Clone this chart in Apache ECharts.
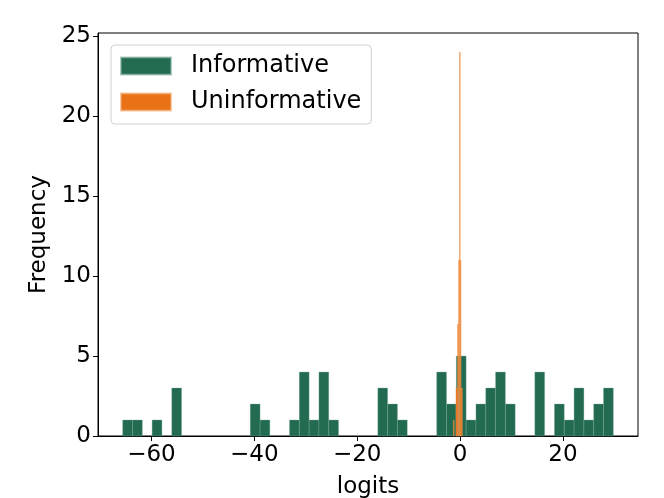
<!DOCTYPE html>
<html>
<head>
<meta charset="utf-8">
<script src="https://cdn.jsdelivr.net/npm/echarts@6/dist/echarts.min.js"></script>
<style>
  html, body { margin: 0; padding: 0; background: #fff; }
  #box { width: 664px; height: 498px; }
</style>
</head>
<body>
<div id="box"></div>
<script>
// Informative: 50 equal bins, first edge and width
let infStart = -65.6;
let infWidth = 1.908;
let infCounts = [1, 1, 0, 1, 0, 3, 0, 0, 0, 0,
                 0, 0, 0, 2, 1, 0, 0, 1, 4, 1,
                 4, 1, 0, 0, 0, 0, 3, 2, 1, 0,
                 0, 0, 4, 2, 5, 1, 2, 3, 4, 2,
                 0, 0, 4, 0, 2, 1, 3, 1, 2, 3];

// Uninformative: very narrow bins packed around 0
let uninfLeft  = [-1.30, -0.80, -0.50, -0.30, -0.12, 0.04, 0.20];
let uninfRight = [-1.14, -0.50, -0.30, -0.12, 0.04, 0.20, 0.45];
let uninfCount = [1, 3, 7, 11, 24, 11, 3];

let xTicks = [-60, -40, -20, 0, 20];
let yTicks = [0, 5, 10, 15, 20, 25];

let infData = infCounts.map(function (c, i) {
    return [infStart + i * infWidth, infStart + (i + 1) * infWidth, c];
}).filter(function (d) { return d[2] > 0; });

let uninfData = uninfCount.map(function (c, i) {
    return [uninfLeft[i], uninfRight[i], c];
});

function histRect(params, api) {
    let p0 = api.coord([api.value(0), api.value(2)]);
    let p1 = api.coord([api.value(1), 0]);
    return {
        type: 'rect',
        shape: { x: p0[0], y: p0[1], width: p1[0] - p0[0], height: p1[1] - p0[1] },
        style: api.style()
    };
}

let chart = echarts.init(document.getElementById('box'));
let font = 'DejaVu Sans';

let option = {
    backgroundColor: '#fff',
    animation: false,
    textStyle: { fontFamily: font },
    grid: {
        left: 98, top: 33, right: 26, bottom: 62,
        outerBoundsMode: 'none', containLabel: false,
        show: true, borderColor: '#000', borderWidth: 1, backgroundColor: 'transparent'
    },
    legend: {
        orient: 'vertical',
        left: 111, top: 45,
        padding: [9, 10, 10, 9],
        itemWidth: 50, itemHeight: 17, itemGap: 12,
        backgroundColor: '#fff',
        borderColor: '#d0d0d0', borderWidth: 1, borderRadius: 4,
        textStyle: { fontFamily: font, fontSize: 24, color: '#000', padding: [0, 0, 0, 15] },
        data: [
            { name: 'Informative', icon: 'rect' },
            { name: 'Uninformative', icon: 'rect' }
        ]
    },
    xAxis: {
        type: 'value',
        min: -70.4, max: 34.6,
        name: 'logits', nameLocation: 'middle', nameGap: 40,
        nameTextStyle: { fontFamily: font, fontSize: 23, color: '#000' },
        axisLine: { onZero: false, lineStyle: { color: '#000', width: 1 } },
        axisTick: { customValues: xTicks, length: 5, lineStyle: { color: '#000' } },
        axisLabel: {
            customValues: xTicks, margin: 8, fontSize: 23, color: '#000', fontFamily: font,
            formatter: function (v) { return String(v).replace('-', '\u2212'); }
        },
        splitLine: { show: false }
    },
    yAxis: {
        type: 'value',
        min: 0, max: 25.2,
        name: 'Frequency', nameLocation: 'middle', nameGap: 46, nameRotate: 90,
        nameTextStyle: { fontFamily: font, fontSize: 23, color: '#000' },
        axisLine: { show: true, onZero: false, lineStyle: { color: '#000', width: 1 } },
        axisTick: { show: true, customValues: yTicks, length: 5, lineStyle: { color: '#000' } },
        axisLabel: { customValues: yTicks, margin: 7, fontSize: 23, color: '#000', fontFamily: font },
        splitLine: { show: false }
    },
    series: [
        {
            name: 'Informative',
            type: 'custom',
            renderItem: histRect,
            encode: { x: [0, 1], y: 2 },
            itemStyle: { color: '#236b50', borderColor: 'rgba(120,170,150,0.6)', borderWidth: 0.6 },
            data: infData
        },
        {
            name: 'Uninformative',
            type: 'custom',
            renderItem: histRect,
            encode: { x: [0, 1], y: 2 },
            itemStyle: { color: '#e97216', borderColor: 'rgba(245,170,110,0.6)', borderWidth: 0.5 },
            data: uninfData
        }
    ]
};

chart.setOption(option);
</script>
</body>
</html>
